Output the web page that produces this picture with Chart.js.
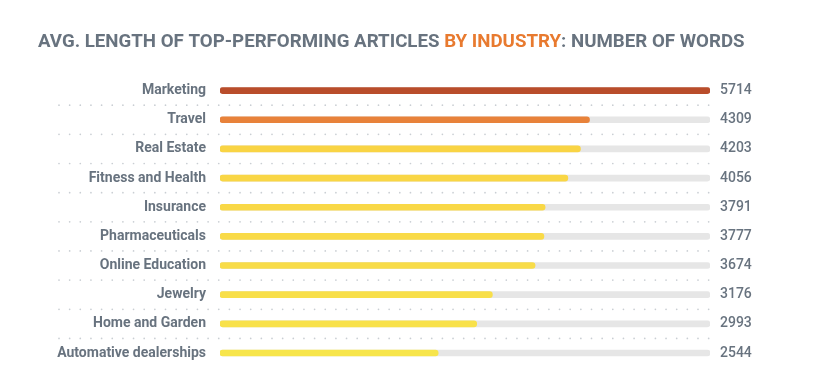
<!DOCTYPE html>
<html>
<head>
<meta charset="utf-8">
<script src="https://cdn.jsdelivr.net/npm/chart.js@4"></script>
<style>
  html, body { margin: 0; padding: 0; background: #fff; }
  #wrap { width: 820px; height: 390px; position: relative; }
</style>
</head>
<body>
<div id="wrap"><canvas id="chart" width="820" height="390"></canvas></div>
<script>
'use strict';

const industries = [
    'Marketing', 'Travel', 'Real Estate', 'Fitness and Health', 'Insurance',
    'Pharmaceuticals', 'Online Education', 'Jewelry', 'Home and Garden', 'Automative dealerships'
];
const wordCounts = [5714, 4309, 4203, 4056, 3791, 3777, 3674, 3176, 2993, 2544];
const titleParts = [
    { text: 'AVG. LENGTH OF TOP-PERFORMING ARTICLES ', accent: false },
    { text: 'BY INDUSTRY', accent: true },
    { text: ': NUMBER OF WORDS', accent: false }
];

const GREY_TEXT = '#68737f';
const ACCENT = '#e87a2f';
const barColors = [
    '#b94d2b', '#e8823a', '#f9d444', '#f9d645', '#f9d846',
    '#f9da47', '#f8dc48', '#f8df49', '#f8e14a', '#f7e54b'
];
const maxValue = Math.max(...wordCounts);
const trackValues = wordCounts.map(() => maxValue);

const titlePlugin = {
    id: 'twoToneTitle',
    afterDraw(chart) {
        const ctx = chart.ctx;
        ctx.save();
        ctx.font = 'bold 18.7px Roboto';
        ctx.textBaseline = 'alphabetic';
        let x = 38;
        titleParts.forEach(part => {
            ctx.fillStyle = part.accent ? ACCENT : GREY_TEXT;
            ctx.fillText(part.text, x, 47);
            x += ctx.measureText(part.text).width;
        });
        ctx.restore();
    }
};

const dotRowsPlugin = {
    id: 'dotRows',
    beforeDatasetsDraw(chart) {
        const ctx = chart.ctx;
        const y = chart.scales.y;
        const right = chart.chartArea.right;
        ctx.save();
        ctx.fillStyle = '#c9ced3';
        for (let i = 0; i < industries.length - 1; i++) {
            const py = (y.getPixelForValue(i) + y.getPixelForValue(i + 1)) / 2;
            for (let px = 59; px <= right + 0.5; px += 10.65) {
                ctx.beginPath();
                ctx.arc(px, py, 0.85, 0, Math.PI * 2);
                ctx.fill();
            }
        }
        ctx.restore();
    }
};

new Chart(document.getElementById('chart'), {
    type: 'bar',
    data: {
        labels: industries,
        datasets: [
            {
                data: wordCounts,
                backgroundColor: barColors,
                grouped: false,
                barThickness: 6,
                borderRadius: 3,
                borderSkipped: false
            },
            {
                data: trackValues,
                backgroundColor: '#e6e6e6',
                grouped: false,
                barThickness: 6,
                borderRadius: 3,
                borderSkipped: false
            }
        ]
    },
    options: {
        indexAxis: 'y',
        responsive: false,
        animation: false,
        layout: { padding: { top: 76, bottom: 20, left: 0, right: 0 } },
        plugins: {
            legend: { display: false },
            tooltip: { enabled: false }
        },
        scales: {
            x: {
                display: false,
                min: 0,
                max: maxValue
            },
            y: {
                position: 'left',
                grid: { display: false, drawTicks: false },
                border: { display: false },
                ticks: {
                    color: GREY_TEXT,
                    padding: 14,
                    font: { family: 'Roboto', size: 14, weight: 'bold' }
                },
                afterFit(scale) { scale.width = 220; }
            },
            y2: {
                type: 'category',
                position: 'right',
                offset: true,
                labels: wordCounts.map(String),
                grid: { display: false, drawTicks: false },
                border: { display: false },
                ticks: {
                    color: GREY_TEXT,
                    padding: 10,
                    font: { family: 'Roboto', size: 14, weight: '500' }
                },
                afterFit(scale) { scale.width = 110; }
            }
        }
    },
    plugins: [titlePlugin, dotRowsPlugin]
});
</script>
</body>
</html>
